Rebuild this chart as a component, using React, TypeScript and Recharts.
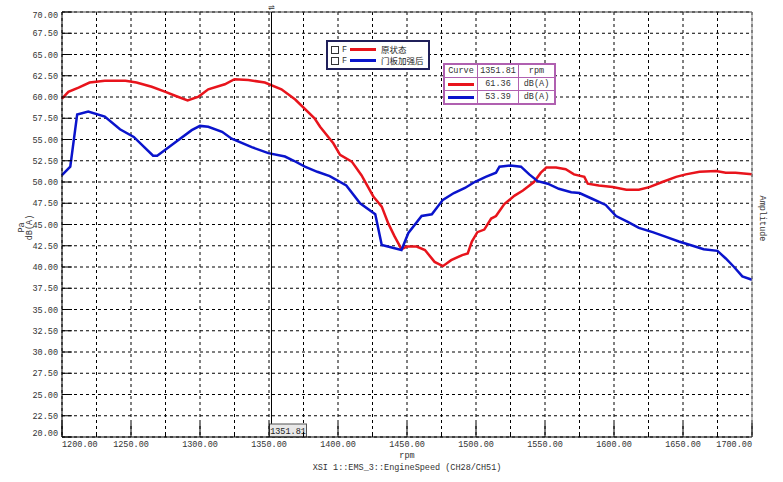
import React from "react";
import {
  CartesianGrid,
  Legend,
  Line,
  LineChart,
  ReferenceLine,
  XAxis,
  YAxis,
} from "recharts";

const xTicks = [
  1200, 1225, 1250, 1275, 1300, 1325, 1350, 1375, 1400, 1425, 1450, 1475,
  1500, 1525, 1550, 1575, 1600, 1625, 1650, 1675, 1700,
];
const yTicks = [
  20, 22.5, 25, 27.5, 30, 32.5, 35, 37.5, 40, 42.5, 45, 47.5, 50, 52.5, 55,
  57.5, 60, 62.5, 65, 67.5, 70,
];
const ampTicks = [0, 1];

const seriesNames = ["原状态", "门板加强后"];
const seriesColors = ["#e8141c", "#0a14cc"];

const cursorRpm = 1351.81;
const cursorValues = [61.36, 53.39];

// 原状态
const redRpm = [
  1200, 1204.6, 1212, 1220, 1231, 1246, 1254, 1265, 1275, 1282, 1291, 1299,
  1306, 1318, 1325, 1335, 1347, 1359, 1369, 1383, 1387, 1396.6, 1401.5, 1410,
  1417, 1425.6, 1431.7, 1436.5, 1441, 1446, 1450, 1457, 1463, 1470, 1476,
  1482, 1490, 1494, 1497, 1501, 1506, 1511, 1514.5, 1520.5, 1528, 1534, 1542,
  1547, 1551, 1558, 1565, 1571, 1578.5, 1581, 1589, 1599, 1609, 1618, 1625.6,
  1635, 1645, 1652, 1662, 1674, 1681, 1688, 1700,
];
const redDb = [
  59.8, 60.6, 61.1, 61.7, 61.9, 61.9, 61.7, 61.2, 60.6, 60.15, 59.6, 60.05,
  60.9, 61.5, 62.1, 62.0, 61.7, 60.9, 59.7, 57.5, 56.5, 54.55, 53.2, 52.4,
  50.8, 48.3, 47.1, 45.1, 43.6, 42.1, 42.4, 42.4, 42.0, 40.6, 40.1, 40.8,
  41.4, 41.6, 43.0, 44.1, 44.4, 45.7, 46.0, 47.4, 48.4, 49.0, 50.0, 51.1,
  51.7, 51.7, 51.5, 50.9, 50.6, 49.8, 49.6, 49.4, 49.1, 49.1, 49.4, 50.0,
  50.6, 50.9, 51.2, 51.3, 51.1, 51.1, 50.9,
];

// 门板加强后
const blueRpm = [
  1200, 1206, 1211, 1219, 1231, 1242, 1252, 1266, 1269, 1279.5, 1294, 1300,
  1306, 1316, 1323, 1337.5, 1349.5, 1361.6, 1368, 1376, 1385, 1394, 1406,
  1416, 1427, 1431.7, 1446, 1451, 1460.6, 1468, 1476, 1484, 1492, 1499, 1507,
  1514.5, 1517, 1525, 1532.6, 1538.6, 1544.7, 1552, 1560, 1569, 1575, 1584.5,
  1594, 1601.5, 1610, 1618, 1628, 1637.7, 1647, 1657, 1665, 1675, 1681, 1687,
  1693, 1700,
];
const blueDb = [
  50.8, 51.8, 57.95, 58.3, 57.7, 56.2, 55.3, 53.1, 53.1, 54.35, 56.1, 56.6,
  56.5, 55.9, 55.1, 54.1, 53.4, 53.0, 52.5, 51.8, 51.2, 50.7, 49.6, 47.5,
  46.2, 42.6, 42.0, 44.0, 46.0, 46.2, 47.9, 48.7, 49.3, 50.0, 50.6, 51.1,
  51.8, 51.95, 51.8, 50.9, 50.1, 49.8, 49.2, 48.8, 48.7, 48.0, 47.3, 46.0,
  45.3, 44.6, 44.1, 43.55, 43.0, 42.5, 42.1, 41.9, 41.0, 40.0, 38.9, 38.5,
];

const redData = redRpm.map((rpm, i) => ({ rpm, db: redDb[i] }));
const blueData = blueRpm.map((rpm, i) => ({ rpm, db: blueDb[i] }));

const MONO = "'Liberation Mono', 'DejaVu Sans Mono', monospace";
const CJK = "'Noto Sans CJK SC', sans-serif";
const TXT = "#333";

function XTick(props: any) {
  const { x, y, payload } = props;
  const v = payload.value as number;
  const major = v % 50 === 0;
  const anchor = v === xTicks[0] ? "start" : v === xTicks[xTicks.length - 1] ? "end" : "middle";
  return (
    <g>
      <line x1={x} x2={x} y1={y} y2={y - (major ? 14 : 5)} stroke="#000" />
      {major && (
        <text x={x} y={y + 9.5} textAnchor={anchor} fontFamily={MONO} fontSize={8.5} fill={TXT}>
          {v.toFixed(2)}
        </text>
      )}
    </g>
  );
}

function YTick(props: any) {
  const { x, y, payload } = props;
  const v = payload.value as number;
  const dy = v === 70 ? 3 : v === 20 ? -4 : 0;
  return (
    <g>
      <line x1={x} x2={x + 10} y1={y} y2={y} stroke="#000" />
      <text x={x - 4} y={y + dy + 3} textAnchor="end" fontFamily={MONO} fontSize={8.5} fill={TXT}>
        {v.toFixed(2)}
      </text>
    </g>
  );
}

function RightInnerTick(props: any) {
  const { x, y } = props;
  return <line x1={x - 15} x2={x} y1={y} y2={y} stroke="#000" />;
}

function AmpTick(props: any) {
  const { x, y, payload } = props;
  const v = payload.value as number;
  const dy = v === 1 ? 3 : -5;
  return (
    <text x={x + 2} y={y + dy + 3} textAnchor="start" fontFamily={MONO} fontSize={8.5} fill={TXT}>
      {v.toFixed(2)}
    </text>
  );
}

function XTitle(props: any) {
  const { x, y, width } = props.viewBox;
  const cx = x + width / 2;
  return (
    <g fontFamily={MONO} fontSize={8.5} fill={TXT}>
      <text x={cx} y={y + 21} textAnchor="middle">rpm</text>
      <text x={cx} y={y + 33} textAnchor="middle">XSI 1::EMS_3::EngineSpeed (CH28/CH51)</text>
    </g>
  );
}

function YTitle(props: any) {
  const { y, height } = props.viewBox;
  const cy = y + height / 2 + 3;
  return (
    <g fontFamily={MONO} fontSize={8.5} fill={TXT}>
      <text x={24} y={cy} textAnchor="middle" transform={`rotate(-90 24 ${cy})`}>Pa</text>
      <text x={32} y={cy} textAnchor="middle" transform={`rotate(-90 32 ${cy})`}>dB(A)</text>
    </g>
  );
}

function AmpTitle(props: any) {
  const { x, y, height } = props.viewBox;
  const cx = x + 8;
  const cy = y + height / 2 - 6;
  return (
    <text
      x={cx}
      y={cy}
      textAnchor="middle"
      fontFamily={MONO}
      fontSize={8.5}
      fill={TXT}
      transform={`rotate(90 ${cx} ${cy})`}
    >
      Amplitude
    </text>
  );
}

function CursorLabel(props: any) {
  const { x, y, height } = props.viewBox;
  const bottom = y + height;
  return (
    <g>
      <text x={x} y={y - 2} textAnchor="middle" fontFamily="'DejaVu Sans'" fontSize={8} fill="#333">
        ⇌
      </text>
      <rect x={x - 2} y={bottom - 13} width={37} height={13} fill="#e8e8e8" stroke="#555" />
      <text x={x + 16.5} y={bottom - 3.5} textAnchor="middle" fontFamily={MONO} fontSize={8.5} fill="#222">
        {cursorRpm.toFixed(2)}
      </text>
    </g>
  );
}

function LegendBox(props: any) {
  const items = props.payload || [];
  return (
    <div
      style={{
        border: "2px solid #20205a",
        background: "#fff",
        padding: "2px 0 2px 3px",
        boxSizing: "border-box",
        width: 104,
        whiteSpace: "nowrap",
        overflow: "hidden",
      }}
    >
      {items.map((p: any) => (
        <div key={p.value} style={{ display: "flex", alignItems: "center", height: 11 }}>
          <span style={{ flexShrink: 0, width: 6, height: 6, border: "1px solid #333", marginRight: 3 }} />
          <span style={{ flexShrink: 0, fontFamily: MONO, fontSize: 8.5, color: "#333", marginRight: 3 }}>F</span>
          <span style={{ flexShrink: 0, width: 26, height: 3, background: p.color, marginRight: 5 }} />
          <span style={{ flexShrink: 0, fontFamily: CJK, fontSize: 8.5, color: "#222", lineHeight: "11px" }}>
            {p.value}
          </span>
        </div>
      ))}
    </div>
  );
}

const cell: React.CSSProperties = {
  border: "1px solid #b060b0",
  height: 12,
  padding: 0,
  textAlign: "center",
  fontFamily: MONO,
  fontSize: 8.5,
  color: "#333",
  lineHeight: "12px",
};

function CursorTable() {
  return (
    <table
      style={{
        position: "absolute",
        left: 443,
        top: 63,
        borderCollapse: "collapse",
        border: "2px solid #b060b0",
        background: "#fff",
      }}
    >
      <tbody>
        <tr>
          <td style={{ ...cell, width: 32 }}>Curve</td>
          <td style={{ ...cell, width: 40 }}>{cursorRpm.toFixed(2)}</td>
          <td style={{ ...cell, width: 35 }}>rpm</td>
        </tr>
        {cursorValues.map((v, i) => (
          <tr key={seriesNames[i]}>
            <td style={cell}>
              <div style={{ width: 26, height: 3, background: seriesColors[i], margin: "0 auto" }} />
            </td>
            <td style={cell}>{v.toFixed(2)}</td>
            <td style={cell}>dB(A)</td>
          </tr>
        ))}
      </tbody>
    </table>
  );
}

export default function App() {
  return (
    <div style={{ position: "absolute", left: 0, top: 0, width: 783, height: 482, background: "#fff" }}>
      <LineChart width={783} height={482} margin={{ top: 12, right: 0, bottom: 0, left: 0 }}>
        <CartesianGrid stroke="#000" strokeDasharray="3 3" />
        <XAxis
          dataKey="rpm"
          type="number"
          domain={[1200, 1700]}
          ticks={xTicks}
          interval={0}
          allowDuplicatedCategory={false}
          height={45}
          tickSize={0}
          tickMargin={0}
          tickLine={false}
          tick={<XTick />}
          axisLine={{ stroke: "#000" }}
          label={<XTitle />}
        />
        <YAxis
          domain={[20, 70]}
          ticks={yTicks}
          interval={0}
          width={62}
          tickSize={0}
          tickMargin={0}
          tickLine={false}
          tick={<YTick />}
          axisLine={{ stroke: "#000" }}
          label={<YTitle />}
        />
        <YAxis
          yAxisId="inner"
          orientation="right"
          domain={[20, 70]}
          ticks={yTicks}
          interval={0}
          width={0}
          tickSize={0}
          tickMargin={0}
          tickLine={false}
          tick={<RightInnerTick />}
          axisLine={false}
        />
        <YAxis
          yAxisId="amp"
          orientation="right"
          domain={[0, 1]}
          ticks={ampTicks}
          interval={0}
          width={31}
          tickSize={0}
          tickMargin={0}
          tickLine={false}
          tick={<AmpTick />}
          axisLine={{ stroke: "#888" }}
          label={<AmpTitle />}
        />
        <ReferenceLine y={70} stroke="#444" />
        <Legend
          layout="vertical"
          align="center"
          verticalAlign="middle"
          content={<LegendBox />}
          wrapperStyle={{ left: 326, top: 40, width: 104, height: 29 }}
        />
        <Line
          data={redData}
          dataKey="db"
          name={seriesNames[0]}
          stroke={seriesColors[0]}
          strokeWidth={2.5}
          dot={false}
          activeDot={false}
          isAnimationActive={false}
        />
        <Line
          data={blueData}
          dataKey="db"
          name={seriesNames[1]}
          stroke={seriesColors[1]}
          strokeWidth={2.5}
          dot={false}
          activeDot={false}
          isAnimationActive={false}
        />
        <ReferenceLine x={cursorRpm} stroke="#000" label={<CursorLabel />} />
      </LineChart>
      <CursorTable />
    </div>
  );
}
